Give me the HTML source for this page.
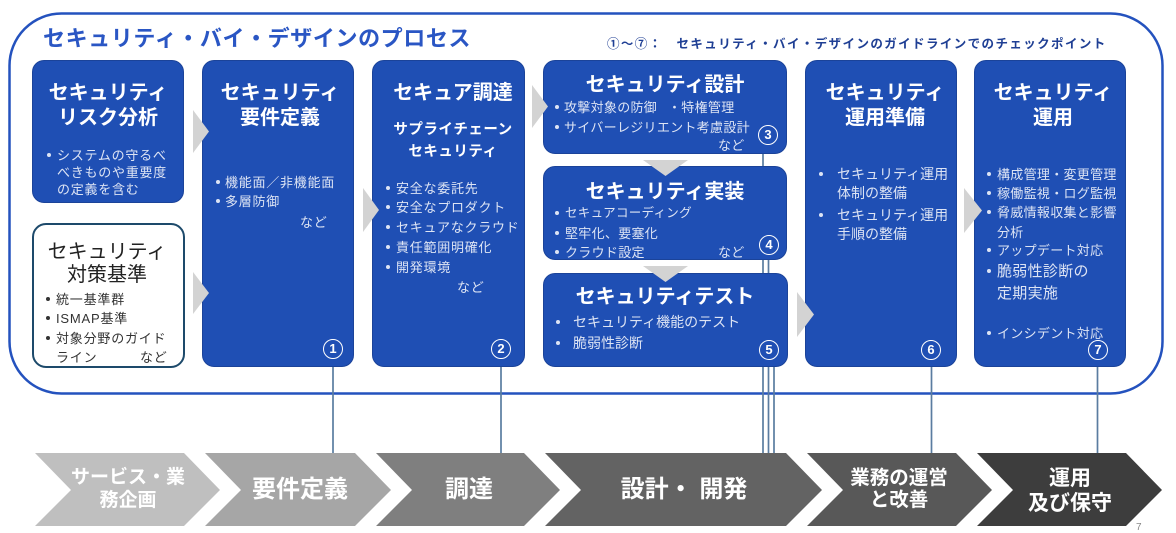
<!DOCTYPE html>
<html lang="ja">
<head>
<meta charset="utf-8">
<style>
  html,body{margin:0;padding:0;background:#fff;}
  body{width:1176px;height:531px;position:relative;overflow:hidden;font-family:"Liberation Sans","Noto Sans CJK JP",sans-serif;}
  .t{position:absolute;white-space:nowrap;line-height:1;}
  .c{width:300px;text-align:center;}
  .w{color:#fff;font-weight:bold;font-size:20px;}
  .b{color:#dde4f4;font-size:13px;letter-spacing:.75px;}
  .b3{color:#dde4f4;font-size:13px;letter-spacing:.3px;}
  .b4{color:#dde4f4;font-size:14px;letter-spacing:0;}
  .k{color:#333;font-size:13px;letter-spacing:.8px;}
  .d{position:absolute;width:4px;height:4px;border-radius:50%;background:#dde4f4;}
  .dk{position:absolute;width:4px;height:4px;border-radius:50%;background:#333;}
  .box{position:absolute;background:#1f4fb4;border-radius:12px;border:1px solid #1b4399;box-sizing:border-box;}
  .num{position:absolute;width:20px;height:20px;border:1.5px solid #fff;border-radius:50%;box-sizing:border-box;color:#fff;font-size:13px;font-weight:bold;text-align:center;line-height:17px;font-family:"Liberation Sans",sans-serif;}
  .ch{color:#fff;font-weight:bold;}
</style>
</head>
<body>

<!-- background layer: container, connector lines, chevrons -->
<svg width="1176" height="531" style="position:absolute;left:0;top:0;" xmlns="http://www.w3.org/2000/svg">
  <rect x="9.5" y="13.5" width="1153" height="380" rx="52" ry="52" fill="none" stroke="#2452be" stroke-width="2.5"/>
  <g stroke="#5a7ca0" stroke-width="1.7">
    <line x1="333" y1="367" x2="333" y2="453"/>
    <line x1="501" y1="367" x2="501" y2="453"/>
    <line x1="763" y1="154" x2="763" y2="453"/>
    <line x1="768.5" y1="260" x2="768.5" y2="453"/>
    <line x1="774" y1="367" x2="774" y2="453"/>
    <line x1="931.5" y1="367" x2="931.5" y2="453"/>
    <line x1="1097.5" y1="367" x2="1097.5" y2="453"/>
  </g>
  <polygon points="35,453 184,453 220,490 184,526 35,526 71,490" fill="#bfbfbf"/>
  <polygon points="205,453 355,453 391,490 355,526 205,526 241,490" fill="#a6a6a6"/>
  <polygon points="376,453 524,453 560,490 524,526 376,526 412,490" fill="#7f7f7f"/>
  <polygon points="545,453 786,453 822,490 786,526 545,526 581,490" fill="#636363"/>
  <polygon points="807,453 956,453 992,490 956,526 807,526 843,490" fill="#585858"/>
  <polygon points="977,453 1126,453 1162,490 1126,526 977,526 1013,490" fill="#3d3d3d"/>
</svg>

<!-- Title -->
<div class="t" style="left:43px;top:28px;font-size:22px;font-weight:bold;color:#2a56c4;letter-spacing:.6px;">セキュリティ・バイ・デザインのプロセス</div>
<div class="t" style="left:607px;top:38px;font-size:12.5px;font-weight:bold;color:#1f3f94;letter-spacing:1.4px;">①～⑦：　セキュリティ・バイ・デザインのガイドラインでのチェックポイント</div>

<!-- Boxes -->
<div class="box" style="left:32px;top:60px;width:152px;height:143px;"></div>
<div style="position:absolute;left:32px;top:223px;width:153px;height:145px;border:2.5px solid #1d4a6b;border-radius:14px;box-sizing:border-box;background:#fff;"></div>
<div class="box" style="left:202px;top:60px;width:152px;height:307px;"></div>
<div class="box" style="left:372px;top:60px;width:153px;height:307px;"></div>
<div class="box" style="left:543px;top:60px;width:244px;height:94px;"></div>
<div class="box" style="left:543px;top:166px;width:244px;height:94px;"></div>
<div class="box" style="left:543px;top:273px;width:245px;height:94px;"></div>
<div class="box" style="left:805px;top:60px;width:152px;height:307px;"></div>
<div class="box" style="left:974px;top:60px;width:152px;height:307px;"></div>

<!-- Box1 -->
<div class="t c w" style="left:-42px;top:83px;">セキュリティ</div>
<div class="t c w" style="left:-42px;top:108px;">リスク分析</div>
<div class="d" style="left:47px;top:153px;"></div>
<div class="t b" style="left:57px;top:148.5px;">システムの守るべ</div>
<div class="t b" style="left:57px;top:165.5px;">べきものや重要度</div>
<div class="t b" style="left:57px;top:182.5px;">の定義を含む</div>

<!-- Box1b -->
<div class="t c" style="left:-43px;top:242px;font-size:20px;color:#222;">セキュリティ</div>
<div class="t c" style="left:-43px;top:265px;font-size:20px;color:#222;">対策基準</div>
<div class="dk" style="left:46px;top:297px;"></div>
<div class="dk" style="left:46px;top:316px;"></div>
<div class="dk" style="left:46px;top:336px;"></div>
<div class="t k" style="left:56px;top:292.5px;">統一基準群</div>
<div class="t k" style="left:56px;top:311.5px;">ISMAP基準</div>
<div class="t k" style="left:56px;top:331.5px;">対象分野のガイド</div>
<div class="t k" style="left:56px;top:350.5px;">ライン</div>
<div class="t k" style="left:140px;top:350.5px;">など</div>

<!-- Box2 -->
<div class="t c w" style="left:130px;top:83px;">セキュリティ</div>
<div class="t c w" style="left:130px;top:108px;">要件定義</div>
<div class="d" style="left:216px;top:180px;"></div>
<div class="d" style="left:216px;top:199px;"></div>
<div class="t b" style="left:225px;top:175.5px;">機能面／非機能面</div>
<div class="t b" style="left:225px;top:194.5px;">多層防御</div>
<div class="t b" style="left:300px;top:215.5px;">など</div>
<div class="num" style="left:323px;top:339px;">1</div>

<!-- Box3 -->
<div class="t c w" style="left:303px;top:83px;">セキュア調達</div>
<div class="t c" style="left:303px;top:123px;color:#fff;font-weight:bold;font-size:14.5px;letter-spacing:.5px;">サプライチェーン</div>
<div class="t c" style="left:303px;top:145px;color:#fff;font-weight:bold;font-size:14.5px;letter-spacing:.5px;">セキュリティ</div>
<div class="d" style="left:386px;top:186px;"></div>
<div class="d" style="left:386px;top:205px;"></div>
<div class="d" style="left:386px;top:225px;"></div>
<div class="d" style="left:386px;top:245px;"></div>
<div class="d" style="left:386px;top:265px;"></div>
<div class="t b" style="left:396px;top:181.5px;">安全な委託先</div>
<div class="t b" style="left:396px;top:200.5px;">安全なプロダクト</div>
<div class="t b" style="left:396px;top:220.5px;">セキュアなクラウド</div>
<div class="t b" style="left:396px;top:240.5px;">責任範囲明確化</div>
<div class="t b" style="left:396px;top:260.5px;">開発環境</div>
<div class="t b" style="left:457px;top:280.5px;">など</div>
<div class="num" style="left:491px;top:339px;">2</div>

<!-- Box4 -->
<div class="t c w" style="left:515px;top:75px;">セキュリティ設計</div>
<div class="d" style="left:555px;top:105px;"></div>
<div class="d" style="left:555px;top:125px;"></div>
<div class="t b3" style="left:564px;top:100.5px;">攻撃対象の防御</div>
<div class="t b3" style="left:668px;top:100.5px;">・特権管理</div>
<div class="t b3" style="left:564px;top:120.5px;">サイバーレジリエント考慮設計</div>
<div class="t b3" style="left:718px;top:138.5px;">など</div>
<div class="num" style="left:758px;top:125px;">3</div>

<!-- Box5 -->
<div class="t c w" style="left:515px;top:182px;">セキュリティ実装</div>
<div class="d" style="left:555px;top:211px;"></div>
<div class="d" style="left:555px;top:231px;"></div>
<div class="d" style="left:555px;top:250px;"></div>
<div class="t b3" style="left:565px;top:206.5px;font-size:12.5px;">セキュアコーディング</div>
<div class="t b3" style="left:565px;top:226.5px;">堅牢化、要塞化</div>
<div class="t b3" style="left:565px;top:245.5px;">クラウド設定</div>
<div class="t b3" style="left:718px;top:245.5px;">など</div>
<div class="num" style="left:759px;top:235px;">4</div>

<!-- Box6 -->
<div class="t c w" style="left:515px;top:287px;">セキュリティテスト</div>
<div class="d" style="left:556px;top:320px;"></div>
<div class="d" style="left:556px;top:341px;"></div>
<div class="t b4" style="left:573px;top:315px;">セキュリティ機能のテスト</div>
<div class="t b4" style="left:573px;top:336px;">脆弱性診断</div>
<div class="num" style="left:759px;top:340px;">5</div>

<!-- Box7 -->
<div class="t c w" style="left:735px;top:83px;">セキュリティ</div>
<div class="t c w" style="left:735px;top:108px;">運用準備</div>
<div class="d" style="left:819px;top:172px;"></div>
<div class="d" style="left:819px;top:213px;"></div>
<div class="t b4" style="left:837px;top:167px;">セキュリティ運用</div>
<div class="t b4" style="left:837px;top:186px;">体制の整備</div>
<div class="t b4" style="left:837px;top:208px;">セキュリティ運用</div>
<div class="t b4" style="left:837px;top:227px;">手順の整備</div>
<div class="num" style="left:921px;top:340px;">6</div>

<!-- Box8 -->
<div class="t c w" style="left:903px;top:83px;">セキュリティ</div>
<div class="t c w" style="left:903px;top:108px;">運用</div>
<div class="d" style="left:987px;top:172px;"></div>
<div class="d" style="left:987px;top:191px;"></div>
<div class="d" style="left:987px;top:210px;"></div>
<div class="d" style="left:987px;top:248px;"></div>
<div class="d" style="left:987px;top:269px;"></div>
<div class="d" style="left:987px;top:331px;"></div>
<div class="t b3" style="left:997px;top:167.5px;">構成管理・変更管理</div>
<div class="t b3" style="left:997px;top:186.5px;">稼働監視・ログ監視</div>
<div class="t b3" style="left:997px;top:205.5px;">脅威情報収集と影響</div>
<div class="t b3" style="left:997px;top:225.5px;">分析</div>
<div class="t b3" style="left:997px;top:243.5px;">アップデート対応</div>
<div class="t b3" style="left:997px;top:263.5px;font-size:15px;">脆弱性診断の</div>
<div class="t b3" style="left:997px;top:285.5px;font-size:15px;">定期実施</div>
<div class="t b3" style="left:997px;top:326.5px;">インシデント対応</div>
<div class="num" style="left:1088px;top:340px;">7</div>

<!-- Gray flow triangles (top layer) -->
<svg width="1176" height="531" style="position:absolute;left:0;top:0;pointer-events:none;" xmlns="http://www.w3.org/2000/svg">
  <g fill="#d3d3d3">
    <polygon points="193,110 209,131.5 193,153"/>
    <polygon points="193,272 209,293 193,314"/>
    <polygon points="363,188 379,210 363,232"/>
    <polygon points="532,85 548,106.5 532,128"/>
    <polygon points="643,160 688,160 665.5,176"/>
    <polygon points="643,266 688,266 665.5,282"/>
    <polygon points="797,292 814,314.5 797,337"/>
    <polygon points="964,188 982,210.5 964,233"/>
  </g>
</svg>

<!-- Chevron labels -->
<div class="t c ch" style="left:-22px;top:467.5px;font-size:19px;">サービス・業</div>
<div class="t c ch" style="left:-22px;top:490.5px;font-size:19px;">務企画</div>
<div class="t c ch" style="left:150px;top:478px;font-size:24px;">要件定義</div>
<div class="t c ch" style="left:319px;top:478px;font-size:24px;">調達</div>
<div class="t c ch" style="left:534px;top:478px;font-size:24px;">設計・ 開発</div>
<div class="t c ch" style="left:749px;top:469px;font-size:19.5px;">業務の運営</div>
<div class="t c ch" style="left:749px;top:491px;font-size:19.5px;">と改善</div>
<div class="t c ch" style="left:920px;top:467.5px;font-size:21px;">運用</div>
<div class="t c ch" style="left:920px;top:492.5px;font-size:21px;">及び保守</div>

<div class="t" style="left:1136px;top:523px;font-size:10px;color:#888;">7</div>

</body>
</html>
